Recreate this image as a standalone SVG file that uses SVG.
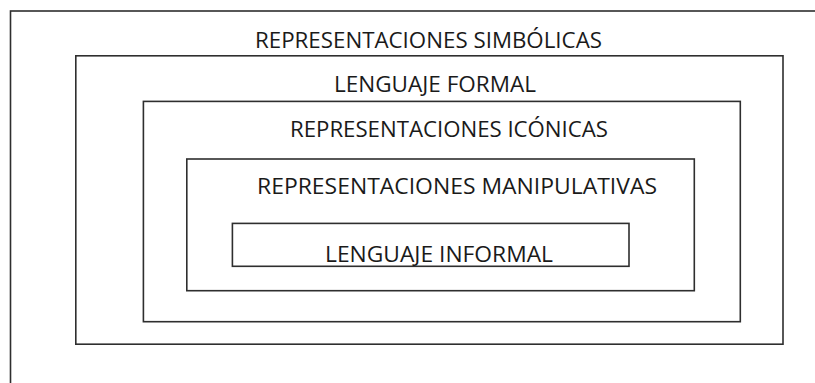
<svg xmlns="http://www.w3.org/2000/svg" width="815" height="383" viewBox="0 0 815 383">
<style>
.box{fill:none;stroke:#2e2e2e;stroke-width:1.6}
.lbl{font-family:"Open Sans","Noto Sans","Liberation Sans",sans-serif;font-size:22.4px;fill:#1a1a1a}
</style>
<rect x="0" y="0" width="815" height="383" fill="#ffffff"/>
<g id="simbolicas">
<rect class="box" x="10.5" y="11" width="900" height="500"/>
<text class="lbl" x="255" y="48" textLength="347" lengthAdjust="spacingAndGlyphs">REPRESENTACIONES SIMBÓLICAS</text>
</g>
<g id="formal">
<rect class="box" x="75.8" y="55.8" width="707.2" height="288.4"/>
<text class="lbl" x="334" y="92" textLength="202" lengthAdjust="spacingAndGlyphs">LENGUAJE FORMAL</text>
</g>
<g id="iconicas">
<rect class="box" x="143.4" y="101.4" width="596.9" height="220.3"/>
<text class="lbl" x="290" y="137" textLength="318" lengthAdjust="spacingAndGlyphs">REPRESENTACIONES ICÓNICAS</text>
</g>
<g id="manipulativas">
<rect class="box" x="186.8" y="159" width="507.5" height="131.7"/>
<text class="lbl" x="257" y="194" textLength="400" lengthAdjust="spacingAndGlyphs">REPRESENTACIONES MANIPULATIVAS</text>
</g>
<g id="informal">
<rect class="box" x="232.4" y="223.4" width="396.6" height="42.9"/>
<text class="lbl" x="325" y="262" textLength="228" lengthAdjust="spacingAndGlyphs">LENGUAJE INFORMAL</text>
</g>
</svg>
